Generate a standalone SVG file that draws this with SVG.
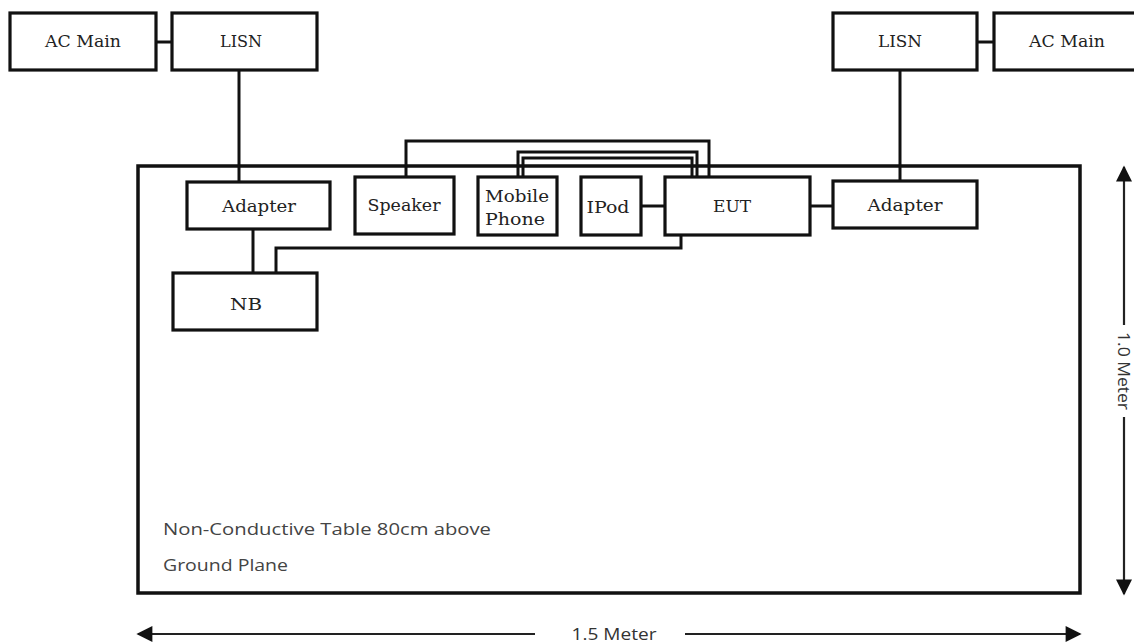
<svg xmlns="http://www.w3.org/2000/svg" width="1134" height="643" viewBox="0 0 1134 643">
<style>
.box{fill:#fff;stroke:#111;stroke-width:3.2}
.lbl{font-family:"DejaVu Serif","Liberation Serif",serif;font-size:17px;fill:#222;text-anchor:middle}
.w{fill:none;stroke:#111;stroke-width:3}
.note{font-family:"Open Sans","Liberation Sans",sans-serif;font-size:17px;fill:#444}
.dim{fill:none;stroke:#222;stroke-width:2.2}
.dimt{font-family:"Open Sans","Liberation Sans",sans-serif;font-size:17px;fill:#333;text-anchor:middle}
</style>
<defs>
<marker id="ah" viewBox="0 0 10 10" refX="9" refY="5" markerWidth="10" markerHeight="6" markerUnits="userSpaceOnUse" orient="auto-start-reverse">
<path d="M0,0 L10,5 L0,10 z" fill="#111"/>
</marker>
<marker id="ahv" viewBox="0 0 10 10" refX="9" refY="5" markerWidth="24" markerHeight="16" markerUnits="userSpaceOnUse" orient="auto-start-reverse">
<path d="M0,0 L10,5 L0,10 z" fill="#111"/>
</marker>
</defs>
<rect width="1134" height="643" fill="#fff"/>

<g id="table">
<rect x="138" y="166" width="942" height="427" fill="none" stroke="#111" stroke-width="3.5"/>
<text class="note" x="163" y="535" textLength="328" lengthAdjust="spacingAndGlyphs">Non-Conductive Table 80cm above</text>
<text class="note" x="163" y="571" textLength="125" lengthAdjust="spacingAndGlyphs">Ground Plane</text>
</g>

<g id="connectors">
<line class="w" x1="156" y1="42" x2="172" y2="42"/>
<line class="w" x1="977" y1="42" x2="994" y2="42"/>
<line class="w" x1="239" y1="70" x2="239" y2="182"/>
<line class="w" x1="900" y1="70" x2="900" y2="181"/>
<line class="w" x1="253" y1="229" x2="253" y2="273"/>
<polyline class="w" points="276,273 276,248 681,248 681,235"/>
<polyline class="w" points="406,177 406,141 709,141 709,177"/>
<polyline class="w" points="518,177 518,152 697,152 697,177"/>
<polyline class="w" points="523,177 523,158 692,158 692,177"/>
<line class="w" x1="641" y1="206" x2="665" y2="206"/>
<line class="w" x1="810" y1="206" x2="833" y2="206"/>
</g>

<g id="ac-main-left"><rect class="box" x="10" y="13" width="146" height="57"/><text class="lbl" x="83" y="47" textLength="76" lengthAdjust="spacingAndGlyphs">AC Main</text></g>
<g id="lisn-left"><rect class="box" x="172" y="13" width="145" height="57"/><text class="lbl" x="241" y="47" textLength="42" lengthAdjust="spacingAndGlyphs">LISN</text></g>
<g id="lisn-right"><rect class="box" x="833" y="13" width="144" height="57"/><text class="lbl" x="900" y="47" textLength="44" lengthAdjust="spacingAndGlyphs">LISN</text></g>
<g id="ac-main-right"><rect class="box" x="994" y="13" width="150" height="57"/><text class="lbl" x="1067" y="47" textLength="76" lengthAdjust="spacingAndGlyphs">AC Main</text></g>

<g id="adapter-left"><rect class="box" x="187" y="182" width="143" height="47"/><text class="lbl" x="259" y="212" textLength="74" lengthAdjust="spacingAndGlyphs">Adapter</text></g>
<g id="speaker"><rect class="box" x="355" y="177" width="99" height="57"/><text class="lbl" x="404" y="211" textLength="73" lengthAdjust="spacingAndGlyphs">Speaker</text></g>
<g id="mobile-phone"><rect class="box" x="478" y="177" width="79" height="58"/><text class="lbl" x="517" y="202" textLength="64" lengthAdjust="spacingAndGlyphs">Mobile</text><text class="lbl" x="515" y="225" textLength="60" lengthAdjust="spacingAndGlyphs">Phone</text></g>
<g id="ipod"><rect class="box" x="581" y="177" width="60" height="58"/><text class="lbl" x="608" y="213" textLength="43" lengthAdjust="spacingAndGlyphs">IPod</text></g>
<g id="eut"><rect class="box" x="665" y="177" width="145" height="58"/><text class="lbl" x="732" y="212" textLength="38" lengthAdjust="spacingAndGlyphs">EUT</text></g>
<g id="adapter-right"><rect class="box" x="833" y="181" width="144" height="47"/><text class="lbl" x="905" y="211" textLength="75" lengthAdjust="spacingAndGlyphs">Adapter</text></g>
<g id="nb"><rect class="box" x="173" y="273" width="144" height="57"/><text class="lbl" x="246" y="310" textLength="32" lengthAdjust="spacingAndGlyphs">NB</text></g>

<g id="dimension-width">
<line class="dim" x1="138" y1="634" x2="535" y2="634" marker-start="url(#ahv)"/>
<line class="dim" x1="685" y1="634" x2="1080" y2="634" marker-end="url(#ahv)"/>
<text class="dimt" x="614" y="640" textLength="85" lengthAdjust="spacingAndGlyphs">1.5 Meter</text>
</g>
<g id="dimension-height">
<line class="dim" x1="1124" y1="167" x2="1124" y2="325" marker-start="url(#ahv)"/>
<line class="dim" x1="1124" y1="417" x2="1124" y2="594" marker-end="url(#ahv)"/>
<text class="dimt" transform="translate(1118,371) rotate(90)" x="0" y="0" textLength="78" lengthAdjust="spacingAndGlyphs">1.0 Meter</text>
</g>
</svg>
